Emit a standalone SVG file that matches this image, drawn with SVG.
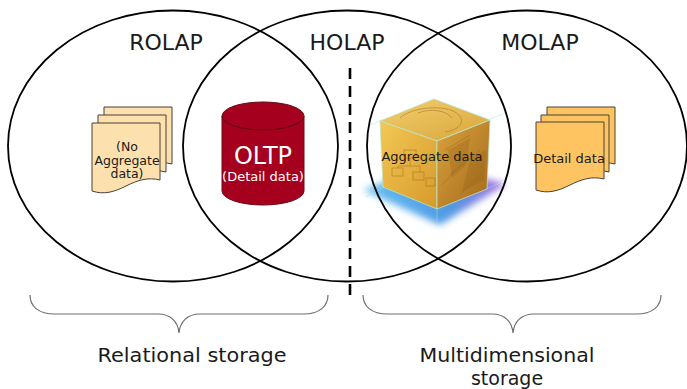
<svg xmlns="http://www.w3.org/2000/svg" xmlns:xlink="http://www.w3.org/1999/xlink" width="687" height="389" viewBox="0 0 687 389">
<style>
.lbl{font-family:"DejaVu Sans","Liberation Sans",sans-serif;fill:#1a1a1a;text-anchor:middle}
.big{font-size:22px}
.foot{font-size:19px}
.small{font-size:12.5px}
.venn{fill:none;stroke:#000;stroke-width:1.8}
.docl{fill:#FCE1AE;stroke:#4a4036;stroke-width:1}
.docr{fill:#FEC461;stroke:#4a4036;stroke-width:1}
.brace{fill:none;stroke:#6e6e6e;stroke-width:1.2}
.white{fill:#fff}
</style>
<defs>
<path id="page" d="M0,0 H68 V57 C56,54 46,57 34,63 C22,69 12,72 0,68 Z"/>
<linearGradient id="gTop" x1="0" y1="0" x2="1" y2="1">
<stop offset="0" stop-color="#F2CF6E"/><stop offset="1" stop-color="#D9A53A"/>
</linearGradient>
<linearGradient id="gLeft" x1="0" y1="0" x2="1" y2="1">
<stop offset="0" stop-color="#F3C855"/><stop offset="1" stop-color="#D69A2C"/>
</linearGradient>
<linearGradient id="gRight" x1="0" y1="0" x2="1" y2="1">
<stop offset="0" stop-color="#DCA23C"/><stop offset="1" stop-color="#A26A1C"/>
</linearGradient>
<linearGradient id="gGlow" x1="0" y1="0" x2="1" y2="0">
<stop offset="0" stop-color="#58B8F0"/><stop offset="0.6" stop-color="#3E8FE0"/><stop offset="1" stop-color="#A060D8"/>
</linearGradient>
<filter id="blur" x="-20%" y="-40%" width="140%" height="180%"><feGaussianBlur stdDeviation="3.5"/></filter>
</defs>

<g id="node-docs-left">
<use xlink:href="#page" href="#page" class="docl" transform="translate(104,107)"/>
<use xlink:href="#page" href="#page" class="docl" transform="translate(98,115)"/>
<use xlink:href="#page" href="#page" class="docl" transform="translate(92,123)"/>
<text class="lbl small" x="127" y="151">(No</text>
<text class="lbl small" x="127" y="164.5">Aggregate</text>
<text class="lbl small" x="127" y="178">data)</text>
</g>

<g id="node-oltp">
<path d="M222,116 V191 A41,14 0 0 0 304,191 V116 A41,14 0 0 0 222,116 Z" fill="#A6001F" stroke="#6a0a16" stroke-width="1"/>
<path d="M222,116 A41,14 0 0 0 304,116" fill="none" stroke="#5e0814" stroke-width="1"/>
<text class="lbl white" x="263" y="164" font-size="24" textLength="58" lengthAdjust="spacingAndGlyphs">OLTP</text>
<text class="lbl white" x="263" y="181" font-size="13">(Detail data)</text>
</g>

<g id="node-cube">
<path d="M363,190 L430,165 L506,184 L440,225 Z" fill="url(#gGlow)" filter="url(#blur)" opacity="0.9"/>
<path d="M380,121 L434,99 L490,120 L437,141 Z" fill="url(#gTop)" stroke="#B9E6C8" stroke-width="0.8"/>
<path d="M380,121 L437,141 L437,209 L383,187 Z" fill="url(#gLeft)" stroke="#B9E6C8" stroke-width="0.8"/>
<path d="M437,141 L490,120 L487,189 L437,209 Z" fill="url(#gRight)" stroke="#B9E6C8" stroke-width="0.8"/>
<g fill="#8A5A14" opacity="0.25">
<path d="M448,150 L470,138 L466,165 L452,178 Z"/>
<path d="M470,160 L486,150 L484,180 L462,192 Z"/>
</g>
<g fill="none" stroke="#9A6A1E" stroke-width="0.8" opacity="0.6">
<path d="M400,118 C410,108 440,104 455,112 C468,120 460,130 445,132"/>
<path d="M418,113 C430,108 446,110 452,118"/>
<path d="M445,150 L470,135 M450,175 L480,150 M460,195 L485,170 M442,185 L465,160"/>
<rect x="404" y="150" width="12" height="8"/><rect x="392" y="168" width="11" height="8"/><rect x="413" y="172" width="11" height="8"/><rect x="426" y="178" width="9" height="8"/>
<path d="M410,158 V166 M398,166 H420 M398,166 V168 M420,166 V172"/>
</g>
<g stroke="#9EE6E0" stroke-width="0.7" opacity="0.7">
<line x1="368" y1="126" x2="382" y2="120"/><line x1="488" y1="120" x2="503" y2="114"/>
<line x1="366" y1="197" x2="384" y2="187"/><line x1="486" y1="189" x2="502" y2="182"/>
<line x1="437" y1="209" x2="437" y2="222"/>
</g>
<text class="lbl" x="432" y="161" font-size="13">Aggregate data</text>
</g>

<g id="node-docs-right">
<use xlink:href="#page" href="#page" class="docr" transform="translate(547,107)"/>
<use xlink:href="#page" href="#page" class="docr" transform="translate(541,115)"/>
<use xlink:href="#page" href="#page" class="docr" transform="translate(536,122)"/>
<text class="lbl" x="569" y="163" font-size="13">Detail data</text>
</g>

<g id="node-rolap">
<ellipse class="venn" cx="173" cy="146" rx="165" ry="135.5"/>
<text class="lbl big" x="166" y="50">ROLAP</text>
</g>
<g id="node-holap">
<ellipse class="venn" cx="347" cy="146" rx="164" ry="135.5"/>
<text class="lbl big" x="347" y="50">HOLAP</text>
</g>
<g id="node-molap">
<ellipse class="venn" cx="527" cy="146" rx="160" ry="135.5"/>
<text class="lbl big" x="540" y="50">MOLAP</text>
</g>

<g id="connectors">
<line x1="350" y1="68" x2="350" y2="300" stroke="#000" stroke-width="2.6" stroke-dasharray="11 7"/>
<path class="brace" d="M30,295 C30,306 38,314 55,314 H158 C171,314 178,322 179,333 C180,322 187,314 200,314 H303 C320,314 328,306 328,295"/>
<path class="brace" d="M363,295 C363,306 371,314 388,314 H492 C505,314 512,322 513,333 C514,322 521,314 534,314 H636 C653,314 661,306 661,295"/>
</g>

<g id="labels">
<text class="lbl foot" x="192" y="362" textLength="189" lengthAdjust="spacingAndGlyphs">Relational storage</text>
<text class="lbl foot" x="507" y="362" textLength="175" lengthAdjust="spacingAndGlyphs">Multidimensional</text>
<text class="lbl foot" x="507" y="385">storage</text>
</g>
</svg>
